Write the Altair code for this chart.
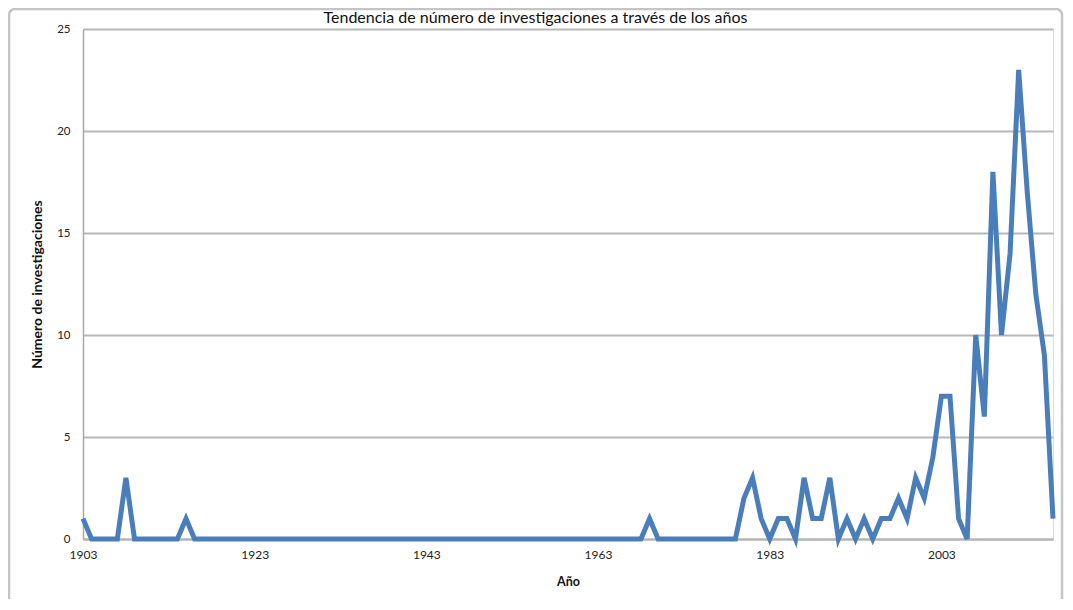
import altair as alt
import pandas as pd

years = list(range(1903, 2017))
values = [
    1, 0, 0, 0, 0, 3, 0, 0, 0, 0,          # 1903-1912
    0, 0, 1, 0, 0, 0, 0, 0, 0, 0,          # 1913-1922
    0, 0, 0, 0, 0, 0, 0, 0, 0, 0,          # 1923-1932
    0, 0, 0, 0, 0, 0, 0, 0, 0, 0,          # 1933-1942
    0, 0, 0, 0, 0, 0, 0, 0, 0, 0,          # 1943-1952
    0, 0, 0, 0, 0, 0, 0, 0, 0, 0,          # 1953-1962
    0, 0, 0, 0, 0, 0, 1, 0, 0, 0,          # 1963-1972
    0, 0, 0, 0, 0, 0, 0, 2, 3, 1,          # 1973-1982
    0, 1, 1, 0, 3, 1, 1, 3, 0, 1,          # 1983-1992
    0, 1, 0, 1, 1, 2, 1, 3, 2, 4,          # 1993-2002
    7, 7, 1, 0, 10, 6, 18, 10, 14, 23,     # 2003-2012
    17, 12, 9, 1,                          # 2013-2016
]
x_ticks = [1903, 1923, 1943, 1963, 1983, 2003]
y_ticks = [0, 5, 10, 15, 20, 25]

title_text = "Tendencia de número de investigaciones a través de los años"
x_title = "Año"
y_title = "Número de investigaciones"

df = pd.DataFrame({"year": years, "value": values})

FONT = "Lato"

frame = alt.Chart(alt.Data(values=[{}])).mark_rect(
    fillOpacity=0, stroke="#c4c4c4", strokeWidth=2.5, cornerRadius=6
).encode(
    x=alt.value(-74), x2=alt.value(979), y=alt.value(-20), y2=alt.value(620)
)

line = alt.Chart(df).mark_line(
    color="#4a7ebb", strokeWidth=5, strokeJoin="miter"
).encode(
    x=alt.X(
        "year:Q",
        scale=alt.Scale(domain=[1903, 2016], nice=False, zero=False),
        axis=alt.Axis(
            values=x_ticks, format="d", title=x_title, grid=False,
            domain=True, domainColor="#b4b4b4", domainWidth=2,
            ticks=False, labelPadding=10, titlePadding=15, labelFlush=False,
            labelFont=FONT, labelFontSize=12, labelColor="#222222",
            titleFont=FONT, titleFontSize=12.5, titleFontWeight="bold", titleColor="#111111",
        ),
    ),
    y=alt.Y(
        "value:Q",
        scale=alt.Scale(domain=[0, 25], nice=False),
        axis=alt.Axis(
            values=y_ticks, title=y_title, grid=True, gridColor="#b8b8b8", gridWidth=2,
            domain=True, domainColor="#a8a8a8", domainWidth=1.5,
            ticks=False, labelPadding=13, titlePadding=12,
            labelFont=FONT, labelFontSize=11.5, labelColor="#222222",
            titleFont=FONT, titleFontSize=14, titleFontWeight="bold", titleColor="#111111",
        ),
    ),
)

chart = alt.layer(frame, line).properties(
    width=970,
    height=510,
    autosize=alt.AutoSizeParams(type="none"),
    padding={"left": 75, "top": 21, "right": 12, "bottom": 60},
    title=alt.Title(
        title_text, font=FONT, fontSize=16, fontWeight="normal", color="#111111",
        anchor="middle", frame="bounds", baseline="alphabetic", offset=-31,
    ),
).configure_view(stroke=None).configure(background="white")

chart.save("out.html", embed_options={"renderer": "svg", "actions": False})
